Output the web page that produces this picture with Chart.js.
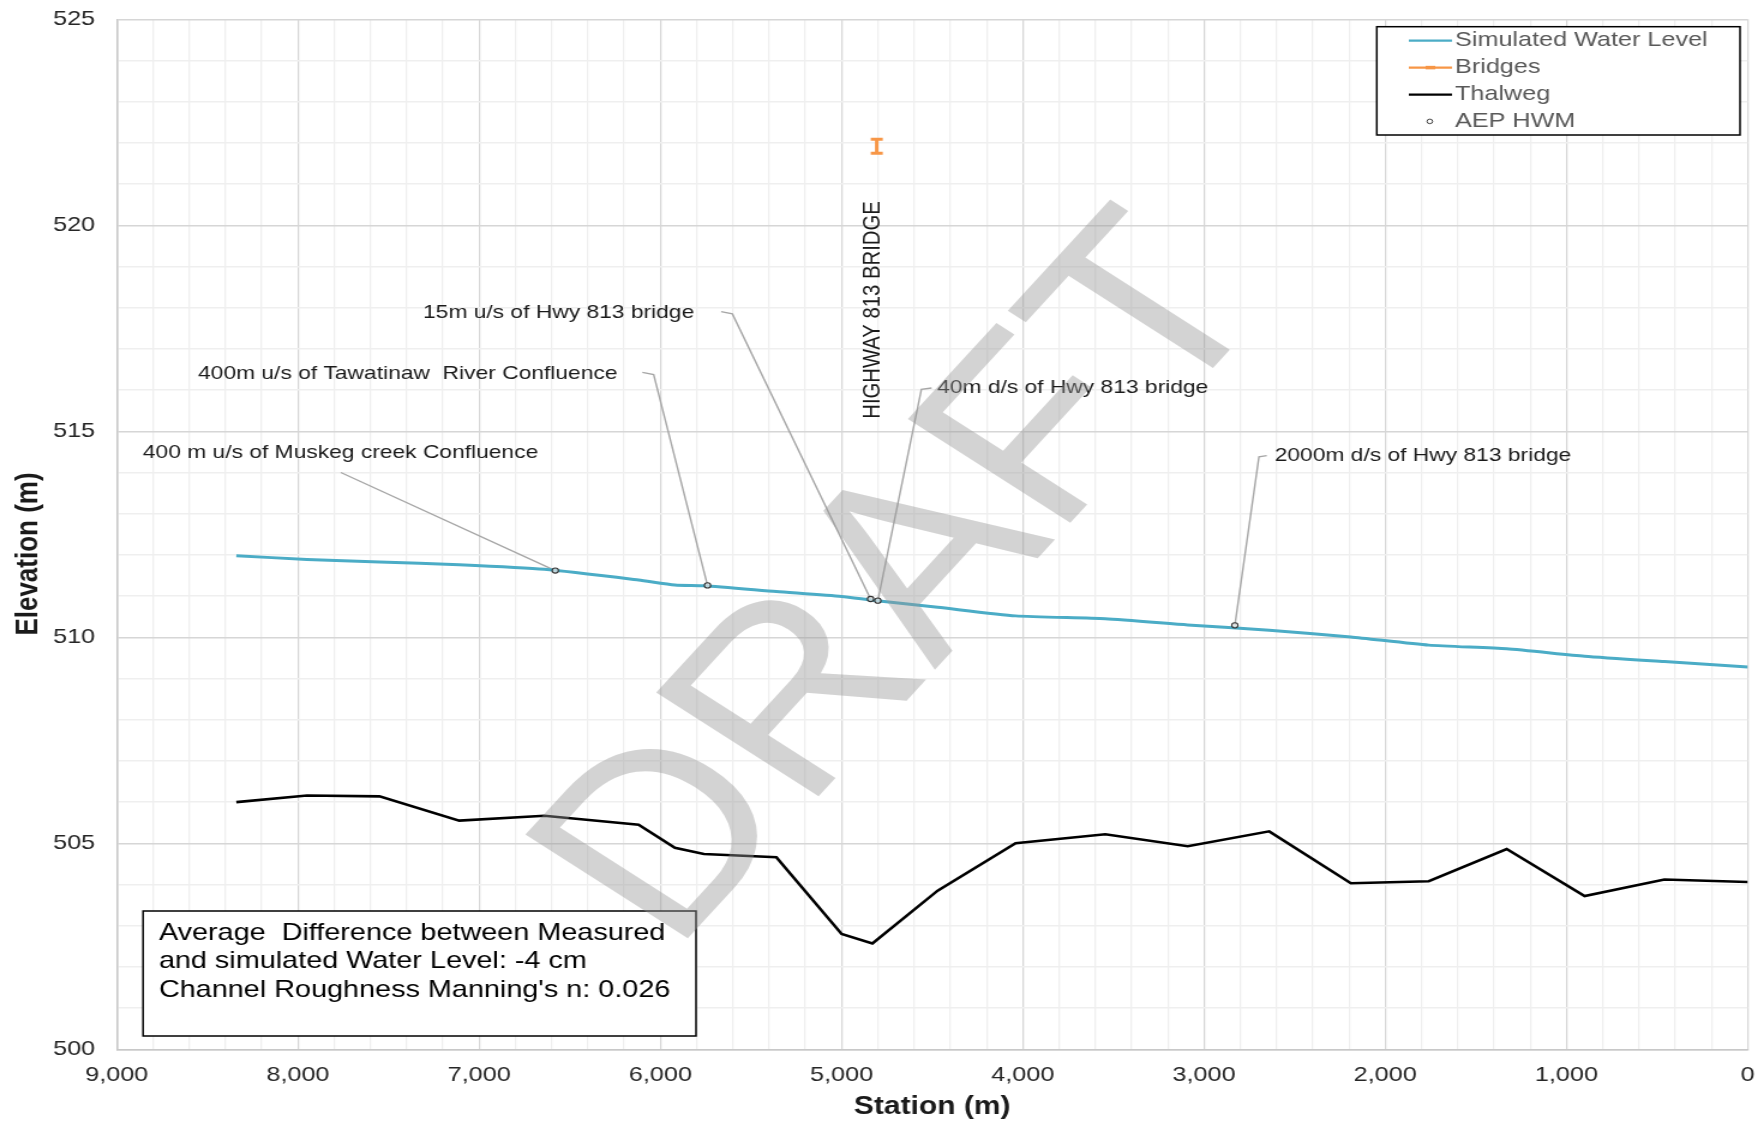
<!DOCTYPE html>
<html>
<head>
<meta charset="utf-8">
<script src="https://cdn.jsdelivr.net/npm/chart.js@4.4.1/dist/chart.umd.min.js"></script>
<style>
  html, body { margin: 0; padding: 0; background: #fff; overflow: hidden; }
  /* the figure is laid out on a 1470px-wide canvas and widened by 20% */
  #wrap { position: absolute; left: 0; top: 0; width: 1470px; height: 1125px;
          transform: scaleX(1.2); transform-origin: 0 0; }
</style>
</head>
<body>
<div id="wrap"><canvas id="profile"></canvas></div>
<script>
// ---- profile data (station in m, elevation in m) ----
const stations = [8340, 7950, 7550, 7110, 6640, 6120, 5920, 5760, 5360, 5000, 4830,
                  4470, 4040, 3545, 3090, 2640, 2190, 1760, 1330, 900, 460, 0];
const waterLevel = [511.98, 511.89, 511.83, 511.76, 511.65, 511.39, 511.27, 511.25, 511.11, 510.99, 510.90,
                    510.73, 510.52, 510.45, 510.30, 510.17, 510.01, 509.81, 509.72, 509.54, 509.41, 509.28];
const thalweg = [506.00, 506.16, 506.14, 505.55, 505.67, 505.45, 504.89, 504.74, 504.66, 502.80, 502.57,
                 503.85, 505.00, 505.22, 504.93, 505.29, 504.03, 504.08, 504.86, 503.72, 504.12, 504.06];

// high water marks
const hwmStations = [6580, 5740, 4840, 4800, 2830];
const hwmLevels = [511.62, 511.26, 510.93, 510.89, 510.29];
const hwmNames = [
  '400 m u/s of Muskeg creek Confluence',
  '400m u/s of Tawatinaw  River Confluence',
  '15m u/s of Hwy 813 bridge',
  '40m d/s of Hwy 813 bridge',
  '2000m d/s of Hwy 813 bridge'
];

// bridge deck
const bridgeStation = 4806;
const bridgeLow = 521.75;
const bridgeHigh = 522.09;
const bridgeName = 'HIGHWAY 813 BRIDGE';

// axes
const xTickStep = 200, xLabelStep = 1000;
const yTickStep = 1, yLabelStep = 5;

const seriesNames = ['Simulated Water Level', 'Bridges', 'Thalweg', 'AEP HWM'];
const noteLines = [
  'Average  Difference between Measured',
  'and simulated Water Level: -4 cm',
  "Channel Roughness Manning's n: 0.026"
];

// ---- styling ----
const FONT = '"Liberation Sans", Arial, Helvetica, sans-serif';
const BLUE = '#4bacc6', ORANGE = '#f79646';
Chart.defaults.font.family = FONT;

// callout text placement (canvas px) and leader elbows, one per high water mark
const callouts = [
  { x: 119,   y: 453,   elbow: [[284, 472.5]] },
  { x: 165,   y: 373.5, elbow: [[535.3, 372.4], [544.7, 374.6]] },
  { x: 352.5, y: 312.8, elbow: [[600.9, 311.6], [610.3, 313.9]] },
  { x: 780.9, y: 388,   elbow: [[776.3, 388], [767.8, 389.3]] },
  { x: 1062.2, y: 455.6, elbow: [[1055.6, 455.6], [1049.1, 456.8]] }
];

const pts = (xs, ys) => xs.map((x, i) => ({ x, y: ys[i] }));

const decorations = {
  id: 'decorations',
  beforeDatasetsDraw(chart) {
    const { ctx, scales: { x, y } } = chart;
    ctx.save();
    ctx.strokeStyle = '#a6a6a6';
    ctx.lineWidth = 1.4;
    callouts.forEach((c, i) => {
      ctx.beginPath();
      ctx.moveTo(c.elbow[0][0], c.elbow[0][1]);
      for (let k = 1; k < c.elbow.length; k++) ctx.lineTo(c.elbow[k][0], c.elbow[k][1]);
      ctx.lineTo(x.getPixelForValue(hwmStations[i]), y.getPixelForValue(hwmLevels[i]));
      ctx.stroke();
    });
    ctx.restore();
  },
  afterDatasetsDraw(chart) {
    const { ctx, scales: { x, y } } = chart;
    ctx.save();

    // callout labels
    ctx.fillStyle = '#1a1a1a';
    ctx.font = '19px ' + FONT;
    ctx.textAlign = 'left';
    ctx.textBaseline = 'middle';
    callouts.forEach((c, i) => ctx.fillText(hwmNames[i], c.x, c.y));

    // bridge name, vertical
    ctx.save();
    ctx.translate(x.getPixelForValue(bridgeStation) - 3, 310);
    ctx.rotate(-Math.PI / 2);
    ctx.textAlign = 'center';
    ctx.font = '20.3px ' + FONT;
    ctx.fillText(bridgeName, 0, 0);
    ctx.restore();

    // note box
    ctx.fillStyle = '#fff';
    ctx.fillRect(119.2, 911, 460.8, 125);
    ctx.strokeStyle = '#000';
    ctx.lineWidth = 1.5;
    ctx.strokeRect(119.2, 911, 460.8, 125);
    ctx.fillStyle = '#000';
    ctx.font = '24px ' + FONT;
    ctx.textBaseline = 'alphabetic';
    noteLines.forEach((t, i) => ctx.fillText(t, 132.4, 939.5 + i * 28.7));

    // DRAFT watermark
    ctx.save();
    ctx.translate(758, 585);
    ctx.rotate(-52.5 * Math.PI / 180);
    ctx.font = '248px ' + FONT;
    ctx.textAlign = 'center';
    ctx.textBaseline = 'middle';
    ctx.fillStyle = 'rgba(150,150,150,0.42)';
    ctx.fillText('DRAFT', 0, 0);
    ctx.restore();

    // legend
    const lx = 1147.3, ly = 26.7, lw = 302.7, lh = 108.3;
    ctx.fillStyle = '#fff';
    ctx.fillRect(lx, ly, lw, lh);
    ctx.strokeStyle = '#000';
    ctx.lineWidth = 1.5;
    ctx.strokeRect(lx, ly, lw, lh);
    const rows = [40.6, 67.6, 94.6, 121.4];
    ctx.font = '21px ' + FONT;
    ctx.textBaseline = 'middle';
    seriesNames.forEach((name, i) => {
      const ry = rows[i];
      if (i < 3) {
        ctx.strokeStyle = i === 0 ? BLUE : (i === 1 ? ORANGE : '#000');
        ctx.lineWidth = 2.2;
        ctx.beginPath();
        ctx.moveTo(1174, ry);
        ctx.lineTo(1210, ry);
        ctx.stroke();
        if (i === 1) {
          ctx.lineWidth = 3.5;
          ctx.beginPath();
          ctx.moveTo(1188, ry);
          ctx.lineTo(1196, ry);
          ctx.stroke();
        }
      } else {
        ctx.strokeStyle = '#404040';
        ctx.lineWidth = 1;
        ctx.beginPath();
        ctx.arc(1191.5, ry, 2.3, 0, Math.PI * 2);
        ctx.stroke();
      }
      ctx.fillStyle = '#595959';
      ctx.fillText(name, 1212.5, ry);
    });

    // y axis title
    ctx.save();
    ctx.translate(23.5, 554);
    ctx.rotate(-Math.PI / 2);
    ctx.font = 'bold 26px ' + FONT;
    ctx.fillStyle = '#1a1a1a';
    ctx.textAlign = 'center';
    ctx.textBaseline = 'middle';
    ctx.fillText('Elevation (m)', 0, 0);
    ctx.restore();

    ctx.restore();
  }
};

new Chart(document.getElementById('profile'), {
  type: 'line',
  data: {
    datasets: [
      { label: seriesNames[0], data: pts(stations, waterLevel), borderColor: BLUE, borderWidth: 3,
        pointRadius: 0, tension: 0.2, order: 3 },
      { label: seriesNames[1], data: pts([bridgeStation, bridgeStation], [bridgeLow, bridgeHigh]),
        borderColor: ORANGE, borderWidth: 3, pointStyle: 'line', pointRadius: 5,
        pointBorderWidth: 3, pointBorderColor: ORANGE, order: 2 },
      { label: seriesNames[2], data: pts(stations, thalweg), borderColor: '#000', borderWidth: 2.6,
        pointRadius: 0, tension: 0, order: 4 },
      { label: seriesNames[3], data: pts(hwmStations, hwmLevels), showLine: false,
        pointStyle: 'circle', pointRadius: 2.6, pointBorderWidth: 1.1,
        pointBorderColor: '#333', pointBackgroundColor: 'rgba(230,230,230,0.7)', order: 1 }
    ]
  },
  options: {
    responsive: true,
    maintainAspectRatio: false,
    animation: false,
    events: [],
    layout: { padding: { top: 19.3, right: 13.6, left: 0, bottom: 0 } },
    plugins: { legend: { display: false }, tooltip: { enabled: false } },
    scales: {
      x: {
        type: 'linear', min: 0, max: 9000, reverse: true,
        afterFit: s => { s.height = 75.7; s.paddingLeft = 0; s.paddingRight = 0; },
        ticks: {
          stepSize: xTickStep, autoSkip: false, maxRotation: 0, padding: 13,
          color: '#262626', font: { size: 21 },
          callback: v => (v % xLabelStep === 0 ? v.toLocaleString('en-US') : '')
        },
        grid: {
          drawTicks: false,
          color: c => (c.tick && c.tick.value % xLabelStep === 0 ? '#d6d6d6' : '#efefef'),
          lineWidth: 1.25
        },
        border: { color: '#c8c8c8', width: 1.5 },
        title: { display: true, text: 'Station (m)', color: '#1a1a1a',
                 font: { size: 25, weight: 'bold', lineHeight: 1.2 }, padding: { top: 0, bottom: 3 } }
      },
      y: {
        min: 500, max: 525,
        afterFit: s => { s.width = 97.25; s.paddingTop = 0; s.paddingBottom = 0; },
        ticks: {
          stepSize: yTickStep, autoSkip: false, padding: 18,
          color: '#262626', font: { size: 21 },
          callback: v => (v % yLabelStep === 0 ? String(v) : '')
        },
        grid: {
          drawTicks: false,
          color: c => (c.tick && c.tick.value % yLabelStep === 0 ? '#d6d6d6' : '#efefef'),
          lineWidth: 1.5
        },
        border: { color: '#c8c8c8', width: 1.5 },
        title: { display: false }
      }
    }
  },
  plugins: [decorations]
});
</script>
</body>
</html>
